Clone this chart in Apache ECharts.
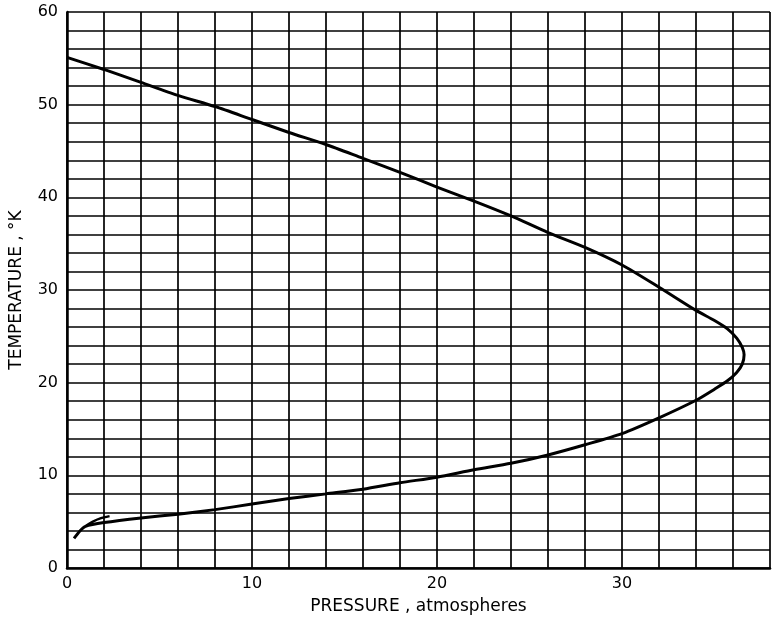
<!DOCTYPE html>
<html>
<head>
<meta charset="utf-8">
<script src="https://cdn.jsdelivr.net/npm/echarts@6/dist/echarts.min.js"></script>
<style>
html, body { margin: 0; padding: 0; background: #fff; }
#chart { width: 774px; height: 621px; }
</style>
</head>
<body>
<div id="chart"></div>
<script>
// pressure (atm) and temperature (K)
var curvePressure = [0, 2, 4, 6, 8, 10, 12, 14, 16, 18, 20, 22, 24, 26, 28, 30, 32, 34, 35.0, 35.7, 36.2, 36.5, 36.6, 36.5, 36.2, 35.7, 35.0, 34.0, 32, 30, 28, 26, 24, 22, 20, 18, 16, 14, 12, 10, 8, 6, 4, 2, 1.0, 0.7, 0.38];
var curveTemp     = [55.1, 53.8, 52.4, 51.0, 49.8, 48.4, 47.0, 45.7, 44.2, 42.7, 41.1, 39.6, 38.0, 36.2, 34.6, 32.7, 30.3, 27.8, 26.7, 25.8, 24.8, 23.8, 23.0, 22.0, 21.1, 20.2, 19.3, 18.1, 16.2, 14.5, 13.3, 12.2, 11.3, 10.6, 9.8, 9.2, 8.5, 8.0, 7.5, 6.9, 6.3, 5.8, 5.4, 4.9, 4.5, 4.0, 3.2];
// short hook near the origin
var hookPressure = [1.0, 1.4, 1.8, 2.3];
var hookTemp     = [4.5, 5.0, 5.35, 5.6];

var xLabels = [0, 10, 20, 30];
var yLabels = [0, 10, 20, 30, 40, 50, 60];

function pairs(xs, ys) {
    var out = [];
    for (var i = 0; i < xs.length; i++) {
        out.push([xs[i], ys[i]]);
    }
    return out;
}

var font = '"DejaVu Sans", sans-serif';
var chart = echarts.init(document.getElementById('chart'));

chart.setOption({
    animation: false,
    backgroundColor: '#fff',
    grid: { left: 63, right: 4, top: 12, bottom: 53 },
    xAxis: {
        type: 'value',
        min: 0,
        max: 38,
        interval: 2,
        name: 'PRESSURE , atmospheres',
        nameLocation: 'middle',
        nameGap: 30,
        nameTextStyle: { color: '#000', fontFamily: font, fontSize: 17 },
        axisLine: { show: true, onZero: false, lineStyle: { color: '#000', width: 2.5 } },
        axisTick: { show: false },
        axisLabel: {
            color: '#000', fontFamily: font, fontSize: 16, margin: 8,
            formatter: function(v) { return xLabels.indexOf(v) >= 0 ? String(v) : ''; }
        },
        splitLine: { show: true, lineStyle: { color: '#000', width: 1.7 } }
    },
    yAxis: {
        type: 'value',
        min: 0,
        max: 60,
        interval: 2,
        name: 'TEMPERATURE , °K',
        nameLocation: 'middle',
        nameGap: 42,
        nameTextStyle: { color: '#000', fontFamily: font, fontSize: 17 },
        axisLine: { show: true, onZero: false, lineStyle: { color: '#000', width: 2.5 } },
        axisTick: { show: false },
        axisLabel: {
            color: '#000', fontFamily: font, fontSize: 16, margin: 9,
            formatter: function(v) { return yLabels.indexOf(v) >= 0 ? String(v) : ''; }
        },
        splitLine: { show: true, lineStyle: { color: '#000', width: 1.7 } }
    },
    series: [
        {
            type: 'line',
            data: pairs(curvePressure, curveTemp),
            showSymbol: false,
            smooth: 0.25,
            lineStyle: { color: '#000', width: 3 }
        },
        {
            type: 'line',
            data: pairs(hookPressure, hookTemp),
            showSymbol: false,
            smooth: 0.3,
            lineStyle: { color: '#000', width: 2.5 }
        }
    ]
});
</script>
</body>
</html>
